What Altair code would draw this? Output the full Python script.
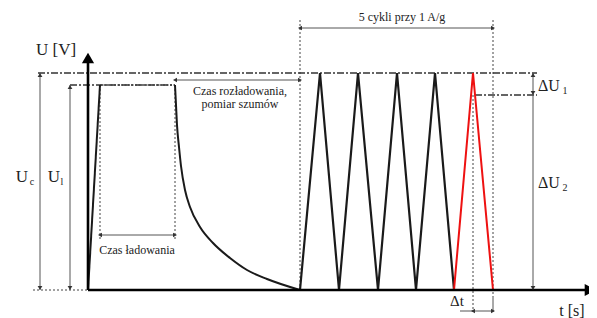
import altair as alt
import pandas as pd

# ---- signal (t, U in schematic units) ----
charge_t = [0, 12]
charge_U = [0, 205]
dis_t = [87, 88, 89, 91, 93, 97, 102, 112, 125, 142, 159, 179, 212]
dis_U = [205, 185, 165, 143, 124, 100, 83, 63, 47, 32, 20, 11, 0]
cyc_t = [212, 232, 251, 270, 290, 309, 328, 347, 366]
cyc_U = [0, 217, 0, 217, 0, 217, 0, 217, 0]
red_t = [366, 385, 405]
red_U = [0, 217, 0]

# ---- axes ----
axis_t = [0, 0]
axis_U = [0, 0]
axis_t2 = [0, 497]
axis_U2 = [227, 0]

# ---- dash-dot guide lines ----
dd_t = [-50, -18, 387]
dd_U = [217, 205, 195]
dd_t2 = [449, 87, 449]
dd_U2 = [217, 205, 195]

# ---- dotted guide lines ----
dot_t = [12, 87, 212, 405, 385, -55]
dot_U = [205, 205, 270, 270, 195, 0]
dot_t2 = [12, 87, 212, 405, 385, 0]
dot_U2 = [50, 50, 0, -7, -22, 0]

# ---- dimension lines ----
dim_t = [-48, -18, 12, 87, 212, 445, 445, 372, 405]
dim_U = [217, 205, 55, 210, 262, 217, 195, -21, -7]
dim_t2 = [-48, -18, 87, 212, 405, 445, 445, 405, 405]
dim_U2 = [0, 0, 55, 210, 262, 195, 0, -21, -22]

# ---- arrowheads ----
arr_t = [-48, -48, -18, -18, 12, 87, 87, 212, 212, 405, 445, 445, 445, 385, 405]
arr_U = [215, 2, 203, 2, 55, 55, 210, 210, 262, 262, 215, 197, 2, -21, -21]
arr_shape = ["triangle-up", "triangle-down", "triangle-up", "triangle-down",
             "triangle-left", "triangle-right", "triangle-left", "triangle-right",
             "triangle-left", "triangle-right", "triangle-up", "triangle-down",
             "triangle-down", "triangle-left", "triangle-right"]
big_arr_t = [0, 502]
big_arr_U = [232, 0]
big_arr_shape = ["triangle-up", "triangle-right"]

# ---- texts ----
txt_label = ["U [V]", "t [s]", "U", "c", "U", "l", "ΔU", "1", "ΔU", "2", "Δt",
             "Czas ładowania", "Czas rozładowania,", "pomiar szumów", "5 cykli przy 1 A/g"]
txt_t = [-32, 484, -66, -56, -34, -26, 461, 477, 461, 477, 369, 49, 152, 152, 314]
txt_U = [240, -21, 113, 108, 113, 108, 204, 199, 107, 102, -11, 40, 199, 186, 273]
txt_size = [17, 16, 17, 10, 17, 10, 16, 10, 16, 10, 15, 12, 12, 12, 12]

xs = alt.Scale(domain=[-80, 501], nice=False, zero=False)
ys = alt.Scale(domain=[-28, 282], nice=False, zero=False)
X = lambda f: alt.X(f, type="quantitative", scale=xs, axis=None)
Y = lambda f: alt.Y(f, type="quantitative", scale=ys, axis=None)


def seg_df(t, U, t2, U2):
    return pd.DataFrame({"t": t, "U": U, "t2": t2, "U2": U2})


def path_df(t, U):
    return pd.DataFrame({"t": t, "U": U, "i": list(range(len(t)))})


def rules(df, color, width, dash=None):
    kw = dict(color=color, strokeWidth=width)
    if dash:
        kw["strokeDash"] = dash
    return alt.Chart(df).mark_rule(**kw).encode(x=X("t"), y=Y("U"), x2="t2", y2="U2")


def path(df, color, width, dash=None, interp="linear"):
    kw = dict(color=color, strokeWidth=width, interpolate=interp)
    if dash:
        kw["strokeDash"] = dash
    return alt.Chart(df).mark_line(**kw).encode(x=X("t"), y=Y("U"), order="i:Q")


dims = rules(seg_df(dim_t, dim_U, dim_t2, dim_U2), "#555", 1)
dd = rules(seg_df(dd_t, dd_U, dd_t2, dd_U2), "#333", 1.3, [7, 2, 2, 2])
dots = rules(seg_df(dot_t, dot_U, dot_t2, dot_U2), "#444", 1, [2, 2])
plateau = rules(seg_df([12], [205], [87], [205]), "#444", 1.3, [2, 1.5])
axes = rules(seg_df(axis_t, axis_U, axis_t2, axis_U2), "#000", 2.6)

charge = path(path_df(charge_t, charge_U), "#1a1a1a", 2)
dis = path(path_df(dis_t, dis_U), "#1a1a1a", 2, interp="monotone")
cyc = path(path_df(cyc_t, cyc_U), "#1a1a1a", 2.2)
red = path(path_df(red_t, red_U), "#ee1111", 2)

arrows = alt.Chart(pd.DataFrame({"t": arr_t, "U": arr_U, "shape": arr_shape})).mark_point(
    filled=True, color="#333", size=22, opacity=1
).encode(x=X("t"), y=Y("U"), shape=alt.Shape("shape:N", scale=None))

big_arrows = alt.Chart(pd.DataFrame({"t": big_arr_t, "U": big_arr_U, "shape": big_arr_shape})).mark_point(
    filled=True, color="#000", size=150, opacity=1
).encode(x=X("t"), y=Y("U"), shape=alt.Shape("shape:N", scale=None))

texts = alt.Chart(pd.DataFrame({"t": txt_t, "U": txt_U, "label": txt_label, "size": txt_size})).mark_text(
    font="Liberation Serif", color="#222", align="center", baseline="middle"
).encode(x=X("t"), y=Y("U"), text="label:N", size=alt.Size("size:Q", scale=None))

chart = alt.layer(dots, dd, plateau, dims, charge, dis, cyc, red, axes, arrows, big_arrows, texts).properties(
    width=581, height=310, padding=0, autosize=alt.AutoSizeParams(type="none")
).configure_view(stroke=None)

chart.save("out.html", embed_options={"renderer": "svg", "actions": False})
